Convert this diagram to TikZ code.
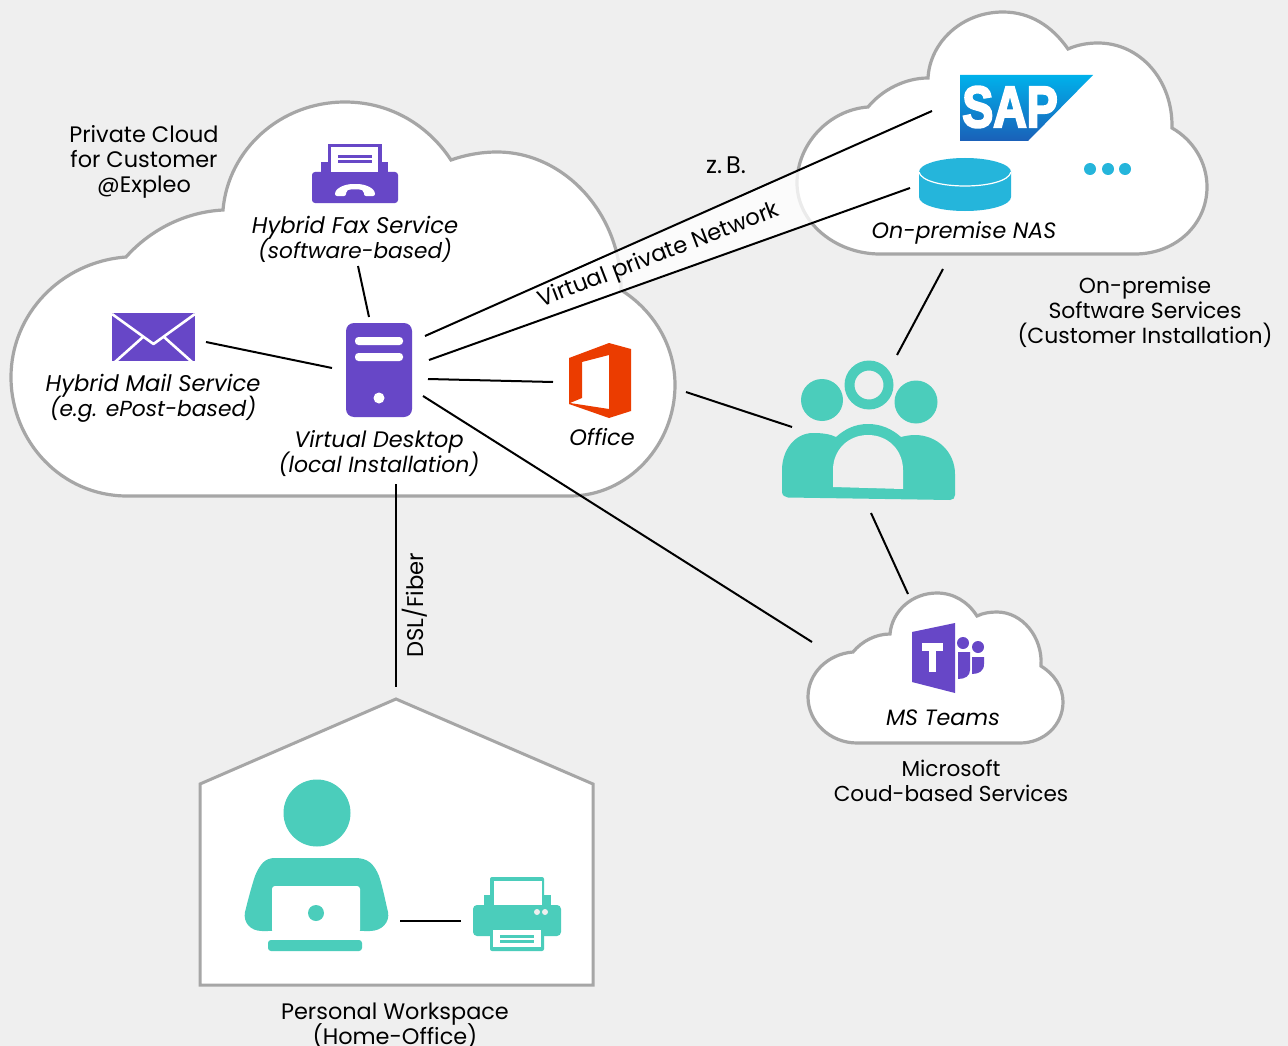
\documentclass[tikz,border=0pt]{standalone}
\usepackage{fontspec}
\setmainfont{Poppins}
\newfontfamily\sapfont[BoldFeatures={FakeBold=4}]{Liberation Sans}
\lineskiplimit=-60pt
\newcommand{\sz}[1]{\fontsize{#1}{25}\selectfont}
\definecolor{pagebg}{HTML}{EFEFEF}
\definecolor{rim}{HTML}{A6A6A6}
\definecolor{violet}{HTML}{6747C7}
\definecolor{teal}{HTML}{4BCDBB}
\definecolor{sky}{HTML}{25B5DB}
\definecolor{orangered}{HTML}{EB3C00}
\definecolor{saptop}{HTML}{00B1EB}
\definecolor{sapbot}{HTML}{1A60B8}
\tikzset{
  lbl/.style={align=center,inner sep=0pt,text=black,font=\fontsize{22.4}{25}\selectfont},
  ilbl/.style={align=center,inner sep=0pt,text=black,font=\fontsize{22.4}{25}\selectfont\itshape},
  cloud/.style={draw=rim,line width=3.2pt,fill=white,line join=miter},
  wire/.style={draw=black,line width=2pt},
}
\begin{document}
\begin{tikzpicture}[x=1pt,y=-1pt]
\useasboundingbox (0,0) rectangle (1288,1046);
\fill[pagebg] (0,0) rectangle (1288,1046);

% clouds
\path[cloud] (127,496) -- (570,496)
  .. controls (628,496) and (675,445) .. (675,385)
  .. controls (675,345) and (653,310) .. (621,290)
  .. controls (622,215) and (565,152) .. (497,152)
  .. controls (481,152) and (465,155) .. (451,160)
  .. controls (428,125) and (390,102) .. (345,102)
  .. controls (280,102) and (228,150) .. (223,210)
  .. controls (185,212) and (150,230) .. (126,257)
  .. controls (60,262) and (11,315) .. (11,377)
  .. controls (11,442) and (62,496) .. (127,496) -- cycle;
\path[cloud] (880,254) -- (1135,254)
  .. controls (1175,254) and (1207,225) .. (1207,187)
  .. controls (1207,162) and (1193,140) .. (1172,128)
  .. controls (1173,80) and (1140,43) .. (1098,43)
  .. controls (1087,43) and (1077,45) .. (1068,49)
  .. controls (1052,26) and (1030,12) .. (1003,12)
  .. controls (962,12) and (930,42) .. (928,78)
  .. controls (905,78) and (882,90) .. (868,107)
  .. controls (828,110) and (797,145) .. (797,183)
  .. controls (797,222) and (835,254) .. (880,254) -- cycle;
\path[cloud] (857,743) -- (1020,743)
  .. controls (1044,743) and (1063,725) .. (1063,702)
  .. controls (1063,687) and (1054,674) .. (1041,666)
  .. controls (1043,637) and (1022,612) .. (997,612)
  .. controls (990,612) and (983,613) .. (977,616)
  .. controls (968,602) and (954,593) .. (937,593)
  .. controls (912,593) and (892,611) .. (890,634)
  .. controls (876,634) and (862,641) .. (853,652)
  .. controls (828,654) and (808,673) .. (808,697)
  .. controls (808,722) and (830,743) .. (857,743) -- cycle;
% house
\path[draw=rim,line width=3pt,fill=white] (396,699) -- (593,784) -- (593,985) -- (200,985) -- (200,784) -- cycle;

% connector ends
\coordinate (svA) at (425,336);  \coordinate (sapEnd) at (932,111);
\coordinate (svB) at (429,360);  \coordinate (nasEnd) at (910,188);
\coordinate (svC) at (428,379);  \coordinate (offEnd) at (553,382);
\coordinate (svD) at (423,396);  \coordinate (teamsEnd) at (812,642);
\coordinate (svT) at (369,317);  \coordinate (faxEnd) at (358,266);
\coordinate (svL) at (332,368);  \coordinate (mailEnd) at (206,342);
\coordinate (dslA) at (396,484); \coordinate (dslB) at (396,687);
\coordinate (grpA) at (792,427); \coordinate (cldA) at (686,392);
\coordinate (grpB) at (897,355); \coordinate (cldB) at (943,269);
\coordinate (grpC) at (871,513); \coordinate (cldC) at (908,594);
\coordinate (pcEnd) at (400,921); \coordinate (prnEnd) at (461,921);

% VPN band
\fill[white,opacity=.78] (svA) -- (sapEnd) -- (nasEnd) -- (svB) -- cycle;

% connectors
\draw[wire] (svA) -- (sapEnd);
\draw[wire] (svB) -- (nasEnd);
\draw[wire] (svC) -- (offEnd);
\draw[wire] (svD) -- (teamsEnd);
\draw[wire] (svT) -- (faxEnd);
\draw[wire] (svL) -- (mailEnd);
\draw[wire] (dslA) -- (dslB);
\draw[wire] (grpA) -- (cldA);
\draw[wire] (grpB) -- (cldB);
\draw[wire] (grpC) -- (cldC);
\draw[wire] (pcEnd) -- (prnEnd);

% server
\fill[violet,rounded corners=8pt] (346,323) rectangle (412,417);
\fill[white,rounded corners=3.5pt] (355,337) rectangle (403,345);
\fill[white,rounded corners=3.5pt] (355,353) rectangle (403,361);
\fill[white] (379,398) circle[radius=5.5];

% mail
\fill[violet] (112,313) rectangle (195,361);
\draw[white,line width=2.6pt,line join=round] (112,314) -- (153.5,344) -- (195,314);
\draw[white,line width=2.6pt] (115,362) -- (143,337);
\draw[white,line width=2.6pt] (192,362) -- (164,337);

% fax
\fill[violet] (328,144) rectangle (382,165);
\fill[violet] (321,162) rectangle (388,175);
\fill[violet,rounded corners=3pt] (312,172) rectangle (398,203);
\fill[white] (331,147) rectangle (378,172);
\fill[violet] (338,155) rectangle (372,158);
\fill[violet] (338,160) rectangle (372,163);
\fill[white,rounded corners=2pt] (335,196)
  .. controls (335,188) and (345,184) .. (355,184)
  .. controls (365,184) and (375,188) .. (375,196)
  -- (364,196) -- (364,191)
  .. controls (360,189) and (350,189) .. (346,191)
  -- (346,196) -- cycle;

% office
\fill[orangered,even odd rule] (569,358) -- (609,343) -- (631,349) -- (631,411) -- (609,418) -- (569,404) -- cycle
  (582,362) -- (609,355) -- (609,409) -- (570,403) -- (582,398) -- cycle;

% SAP
\shade[top color=saptop,bottom color=sapbot] (960,75) -- (1093,75) -- (1028,141) -- (960,141) -- cycle;
\node[inner sep=0pt,text=white,font=\sapfont\bfseries\fontsize{58}{58}\selectfont,xscale=.80,transform shape] (sapword) at (1010,107) {SAP};

% NAS
\fill[sky] (919,172) -- (919,197) .. controls (919,205) and (940,211) .. (965,211)
  .. controls (990,211) and (1011,205) .. (1011,197) -- (1011,172) -- cycle;
\fill[sky] (965,172) ellipse [x radius=46,y radius=14];
\draw[white,line width=1.2pt] (919,172) .. controls (921,181) and (942,186) .. (965,186) .. controls (988,186) and (1009,181) .. (1011,172);
\fill[sky] (1090,169) circle[radius=6];
\fill[sky] (1108,169) circle[radius=6];
\fill[sky] (1125,169) circle[radius=6];

% group
\fill[teal] (822,400) circle[radius=21];
\fill[teal] (916,402) circle[radius=21.5];
\fill[teal,even odd rule] (869,385) circle[radius=24.5] (869,385) circle[radius=14.5];
\fill[teal] (788,497.5) -- (950,500)
  .. controls (953,500) and (955,498) .. (955,495) -- (955,474)
  .. controls (955,452) and (937,435) .. (915,435)
  .. controls (910,435) and (905,436) .. (901,437)
  .. controls (892,429) and (881,424) .. (868,424)
  .. controls (855,424) and (845,429) .. (836,437)
  .. controls (830,434) and (822,433) .. (813,433)
  .. controls (795,433) and (782,450) .. (782,470)
  -- (782,492) .. controls (782,495) and (785,497.5) .. (788,497.5) -- cycle;
\fill[pagebg] (833,487) -- (833,470)
  .. controls (833,450) and (848,435) .. (868,435)
  .. controls (888,435) and (903,450) .. (903,470)
  -- (903,489) -- cycle;

% teams
\fill[violet] (912,632) -- (955,623) -- (955,693) -- (912,682) -- cycle;
\fill[white] (922,643) rectangle (943,651);
\fill[white] (929,651) rectangle (936,672);
\fill[violet] (963,643) circle[radius=6];
\fill[violet] (978,647) circle[radius=6];
\fill[violet] (972,657) -- (984,657) -- (984,664) .. controls (984,671) and (979,674) .. (972,674) -- cycle;
\fill[violet] (958,652) -- (970,652) -- (970,670) .. controls (970,676) and (965,679) .. (958,679) -- cycle;

% person
\fill[teal] (317,813) circle[radius=33.5];
\fill[teal] (275,858) -- (355,858)
  .. controls (368,858) and (374,864) .. (379,876)
  .. controls (383,888) and (386,904) .. (388,912)
  .. controls (390,922) and (382,931) .. (370,931)
  -- (262,931)
  .. controls (250,931) and (243,922) .. (245,912)
  .. controls (247,904) and (251,888) .. (255,876)
  .. controls (260,864) and (265,858) .. (275,858) -- cycle;
\fill[white,rounded corners=3pt] (272,933) -- (272,886) -- (360,886) -- (360,933) -- cycle;
\fill[white] (268,931) rectangle (364,940);
\fill[teal] (316,913) circle[radius=8];
\fill[teal,rounded corners=3pt] (268,940) rectangle (362,951);

% printer
\fill[teal,rounded corners=2pt] (490,877) rectangle (544,910);
\fill[teal] (484,895) rectangle (551,908);
\fill[white] (494,881) rectangle (542,905);
\fill[teal,rounded corners=4pt] (473,905) rectangle (561,936);
\fill[pagebg] (537,912) circle[radius=3];
\fill[pagebg] (545,912) circle[radius=3];
\fill[teal,rounded corners=2pt] (490,930) rectangle (544,951);
\fill[white] (493,930) rectangle (541,947);
\fill[teal] (500,935) rectangle (534,938);
\fill[teal] (500,940) rectangle (534,943);

% labels
\node[lbl] (lblPriv) at (144,161.5) {Private Cloud\\for Customer\\@Expleo};
\node[ilbl] (lblFax) at (355,239) {\sz{22.7}Hybrid Fax Service\\\sz{21.6}(software-based)};
\node[ilbl] (lblMail) at (153,398.5) {\sz{22.7}Hybrid Mail Service\\\sz{21.8}(e.g. ePost-based)};
\node[ilbl] (lblDesk) at (379,453.5) {\sz{22.4}Virtual Desktop\\\sz{22}(local Installation)};
\node[ilbl] (lblOff) at (602,437) {Office};
\node[ilbl] (lblNas) at (964,232.5) {\sz{22.2}On-premise NAS};
\node[lbl] (lblOnp) at (1145,312) {\sz{21.8}On-premise\\\sz{21.9}Software Services\\\sz{21.9}(Customer Installation)};
\node[ilbl] (lblTeams) at (943,718) {\sz{22.2}MS Teams};
\node[lbl] (lblMs) at (951,781) {\sz{21.6}Microsoft\\\sz{21.6}Coud-based Services};
\node[lbl] (lblHome) at (395,1026) {\sz{22.4}Personal Workspace\\\sz{22.4}(Home-Office)};
\node[lbl] (lblZb) at (726,165) {\sz{24}z.\,B.};
\node[lbl,rotate=21] (lblVpn) at (659,256) {\sz{22.7}Virtual private Network};
\node[lbl,rotate=90] (lblDsl) at (415,605) {\sz{22.7}DSL/Fiber};
\end{tikzpicture}
\end{document}
